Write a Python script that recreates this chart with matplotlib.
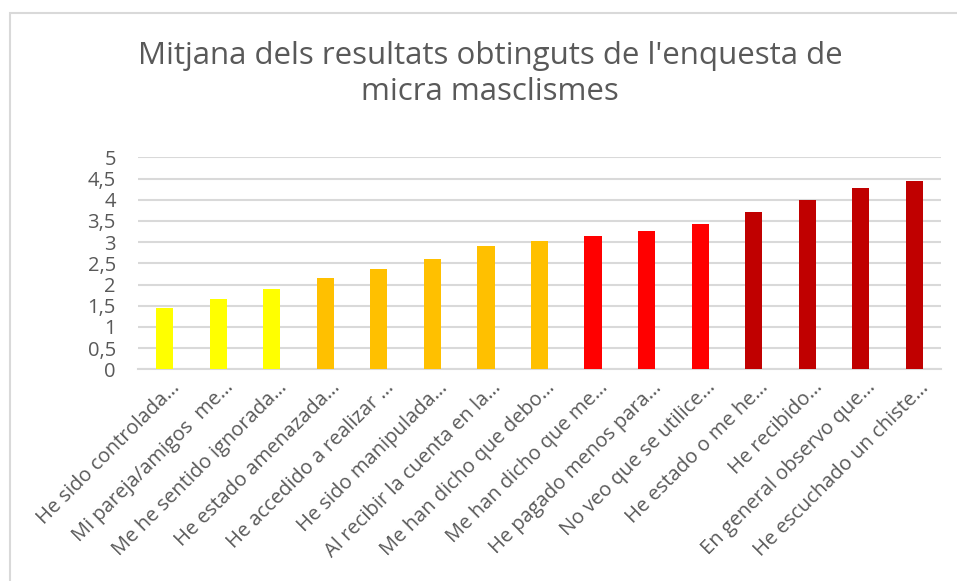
import matplotlib
matplotlib.use("Agg")
import matplotlib.pyplot as plt
from matplotlib.patches import Rectangle
from matplotlib.transforms import ScaledTranslation

categories = [
    "He sido controlada…",
    "Mi pareja/amigos  me…",
    "Me he sentido ignorada…",
    "He estado amenazada…",
    "He accedido a realizar …",
    "He sido manipulada…",
    "Al recibir la cuenta en la…",
    "Me han dicho que debo…",
    "Me han dicho que me…",
    "He pagado menos para…",
    "No veo que se utilice…",
    "He estado o me he…",
    "He recibido…",
    "En general observo que…",
    "He escuchado un chiste…",
]
values = [1.45, 1.66, 1.89, 2.15, 2.37, 2.60, 2.91, 3.03, 3.14, 3.26, 3.43, 3.71, 3.99, 4.28, 4.44]
bar_colors = ["#FFFF00"] * 3 + ["#FFC000"] * 5 + ["#FF0000"] * 3 + ["#C00000"] * 4
yticks = [0, 0.5, 1, 1.5, 2, 2.5, 3, 3.5, 4, 4.5, 5]
ytick_labels = ["0", "0,5", "1", "1,5", "2", "2,5", "3", "3,5", "4", "4,5", "5"]
title = "Mitjana dels resultats obtinguts de l'enquesta de\nmicra masclismes"

plt.rcParams['font.family'] = ['Open Sans', 'DejaVu Sans']
TXT = "#595959"
GRID = "#D9D9D9"

W, H = 957, 581
fig = plt.figure(figsize=(W / 100, H / 100), dpi=100)
fig.patch.set_facecolor("white")

# chart-area border
fig.patches.append(Rectangle((10 / W, -0.1), 1.2, 1.1 - 13 / H, transform=fig.transFigure,
                             fill=False, edgecolor=GRID, linewidth=1.5))

left, right = 138 / W, 941 / W
bottom, top = 1 - 369.3 / H, 1 - 157.3 / H
ax = fig.add_axes([left, bottom, right - left, top - bottom])

x = list(range(len(categories)))
ax.bar(x, values, width=0.32, color=bar_colors, zorder=3)
ax.set_xlim(-0.5, len(categories) - 0.5)
ax.set_ylim(0, 5)
ax.set_yticks(yticks)
ax.set_yticklabels(ytick_labels)
ax.yaxis.grid(True, color=GRID, linewidth=1.5, zorder=0)
ax.set_axisbelow(True)
for s in ["top", "right", "left"]:
    ax.spines[s].set_visible(False)
ax.spines["bottom"].set_color(GRID)
ax.spines["bottom"].set_linewidth(1.5)
ax.tick_params(axis="both", length=0, colors=TXT, labelsize=14.5)
ax.tick_params(axis="y", pad=16)
ax.set_xticks(x)
ax.set_xticklabels(categories, rotation=45, ha="right", va="top", rotation_mode="anchor")
ax.tick_params(axis="x", pad=6)
shift = ScaledTranslation(5 / 100, 0, fig.dpi_scale_trans)
for lbl in ax.get_xticklabels():
    lbl.set_transform(lbl.get_transform() + shift)

fig.text(490 / W, 1 - 74 / H, title, ha="center", va="center", fontsize=22.5, color=TXT,
         linespacing=1.22)

fig.savefig("out.png", dpi=100)
